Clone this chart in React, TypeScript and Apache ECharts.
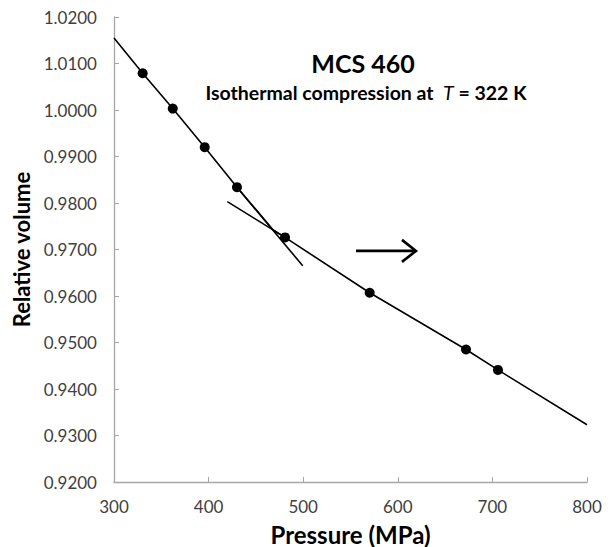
import React, { useEffect, useRef } from "react";
import * as echarts from "echarts";

// Measured points (pressure in MPa, relative volume)
const pressurePoints = [330.3, 362.1, 395.9, 430.0, 480.8, 570.3, 672.1, 705.9];
const volumePoints = [1.0079, 1.0003, 0.992, 0.9834, 0.9726, 0.9607, 0.9485, 0.9441];

// Fitted curve
const fitPressure = [300, 330.3, 362.1, 395.9, 430.0, 468.2, 480.8, 570.3, 672.1, 705.9, 800];
const fitVolume = [1.0155, 1.0079, 1.0003, 0.992, 0.9834, 0.9742, 0.9726, 0.9607, 0.9485, 0.9441, 0.9323];

// Tangent extensions
const tangentAPressure = [430.0, 499.5];
const tangentAVolume = [0.9834, 0.9665];
const tangentBPressure = [419.8, 480.8];
const tangentBVolume = [0.9803, 0.9726];

// Arrow annotation (data coordinates)
const arrowPressure = [555.8, 619.2];
const arrowVolume = [0.9697, 0.9697];

const xTicks = [300, 400, 500, 600, 700, 800];
const yTicks = [0.92, 0.93, 0.94, 0.95, 0.96, 0.97, 0.98, 0.99, 1.0, 1.01, 1.02];

const zip = (a: number[], b: number[]) => a.map((v, i) => [v, b[i]]);

export default function App() {
  const ref = useRef<HTMLDivElement>(null);
  useEffect(() => {
    if (!ref.current) return;
    const chart = echarts.init(ref.current, undefined, { renderer: "svg" });
    const font = "Lato, 'Open Sans', sans-serif";
    const lineSeries = (name: string, data: number[][]) => ({
      name,
      type: "line",
      data,
      showSymbol: false,
      symbol: "none",
      lineStyle: { color: "#000", width: 1.6 },
      z: 2,
    });
    chart.setOption({
      animation: false,
      textStyle: { fontFamily: font },
      grid: { left: 114, right: 23, top: 17, bottom: 65, containLabel: false, outerBoundsMode: "none" },
      xAxis: {
        type: "value",
        min: xTicks[0],
        max: xTicks[xTicks.length - 1],
        interval: 100,
        name: "Pressure (MPa)",
        nameLocation: "middle",
        nameGap: 40,
        nameTextStyle: { fontFamily: font, fontWeight: "bold", fontSize: 24, color: "#000" },
        axisLine: { lineStyle: { color: "#a6a6a6", width: 1.3 } },
        axisTick: { show: true, inside: true, length: 5, lineStyle: { color: "#a6a6a6" } },
        axisLabel: { fontFamily: font, fontSize: 17, color: "#404040", margin: 16 },
        splitLine: { show: false },
      },
      yAxis: {
        type: "value",
        min: yTicks[0],
        max: yTicks[yTicks.length - 1],
        interval: 0.01,
        name: "Relative volume",
        nameLocation: "middle",
        nameGap: 76,
        nameTextStyle: { fontFamily: font, fontWeight: "bold", fontSize: 22, color: "#000" },
        axisLine: { show: true, lineStyle: { color: "#a6a6a6", width: 1.3 } },
        axisTick: { show: true, inside: true, length: 5, lineStyle: { color: "#a6a6a6" } },
        axisLabel: {
          fontFamily: font,
          fontSize: 17,
          color: "#404040",
          margin: 17,
          formatter: (v: number) => v.toFixed(4),
        },
        splitLine: { show: false },
      },
      series: [
        lineSeries("fit", zip(fitPressure, fitVolume)),
        lineSeries("tangentA", zip(tangentAPressure, tangentAVolume)),
        lineSeries("tangentB", zip(tangentBPressure, tangentBVolume)),
        {
          name: "data",
          type: "scatter",
          data: zip(pressurePoints, volumePoints),
          symbol: "circle",
          symbolSize: 10,
          itemStyle: { color: "#000", opacity: 1 },
          z: 3,
        },
      ],
    });
    const tail = chart.convertToPixel({ gridIndex: 0 }, [arrowPressure[0], arrowVolume[0]]) as number[];
    const tip = chart.convertToPixel({ gridIndex: 0 }, [arrowPressure[1], arrowVolume[1]]) as number[];
    chart.setOption({
      graphic: [
        {
          type: "text",
          x: 363,
          y: 63,
          style: {
            text: "MCS 460",
            fontFamily: font,
            fontWeight: "bold",
            fontSize: 25,
            fill: "#000",
            textAlign: "center",
            textVerticalAlign: "middle",
          },
        },
        {
          type: "text",
          x: 366,
          y: 92,
          style: {
            text: "Isothermal compression at  {i|T} = 322 K",
            fontFamily: font,
            fontWeight: "bold",
            fontSize: 19.5,
            fill: "#000",
            textAlign: "center",
            textVerticalAlign: "middle",
            rich: {
              i: { fontFamily: font, fontStyle: "italic", fontWeight: "normal", fontSize: 19.5, fill: "#000" },
            },
          },
        },
        {
          type: "line",
          shape: { x1: tail[0], y1: tail[1], x2: tip[0] - 1, y2: tip[1] },
          style: { stroke: "#000", lineWidth: 2.6 },
        },
        {
          type: "polyline",
          shape: {
            points: [
              [tip[0] - 14, tip[1] - 11],
              [tip[0], tip[1]],
              [tip[0] - 14, tip[1] + 11],
            ],
          },
          style: { stroke: "#000", lineWidth: 2.6, fill: "none" },
        },
      ],
    });
    return () => chart.dispose();
  }, []);
  return <div ref={ref} style={{ position: "fixed", left: 0, top: 0, width: 610, height: 547, background: "#fff" }} />;
}
